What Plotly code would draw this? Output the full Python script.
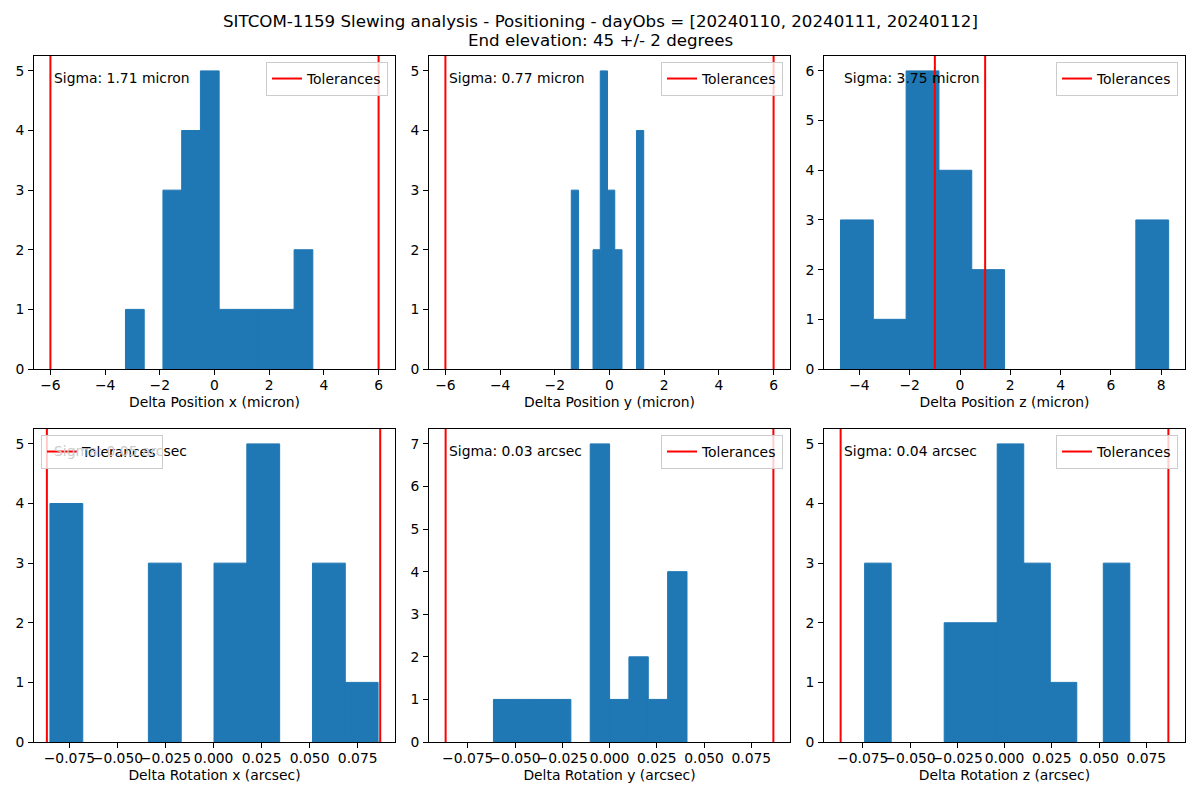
import numpy as np
import plotly.graph_objects as go

# ---------------- data ----------------
title_line1 = "SITCOM-1159 Slewing analysis - Positioning - dayObs = [20240110, 20240111, 20240112]"
title_line2 = "End elevation: 45 +/- 2 degrees"

xlabels = ["Delta Position x (micron)", "Delta Position y (micron)", "Delta Position z (micron)",
           "Delta Rotation x (arcsec)", "Delta Rotation y (arcsec)", "Delta Rotation z (arcsec)"]
sigma_texts = ["Sigma: 1.71 micron", "Sigma: 0.77 micron", "Sigma: 3.75 micron",
               "<span style='color:#cccccc'>Sigma: 0.05 arc</span>sec", "Sigma: 0.03 arcsec", "Sigma: 0.04 arcsec"]

# histogram ranges (first bin left edge, last bin right edge) and counts (10 bins each)
pos_x_range = [-3.255, 3.595]
pos_x_counts = [1, 0, 3, 4, 5, 1, 1, 1, 1, 2]
pos_y_range = [-1.397, 1.251]
pos_y_counts = [3, 0, 0, 2, 5, 3, 2, 0, 0, 4]
pos_z_range = [-4.754, 8.30]
pos_z_counts = [3, 1, 6, 4, 2, 0, 0, 0, 0, 3]
rot_x_range = [-0.0851, 0.0856]
rot_x_counts = [4, 0, 0, 3, 0, 3, 5, 0, 3, 1]
rot_y_range = [-0.0614, 0.0410]
rot_y_counts = [1, 1, 1, 1, 0, 7, 1, 2, 1, 4]
rot_z_range = [-0.0740, 0.0663]
rot_z_counts = [3, 0, 0, 2, 2, 5, 3, 1, 0, 3]

tolerances = [6.0, 6.0, 1.0, 0.0867, 0.0867, 0.0867]

pos_ticks = [-6, -4, -2, 0, 2, 4, 6]
pos_ticklabels = ["\u22126", "\u22124", "\u22122", "0", "2", "4", "6"]
posz_ticks = [-4, -2, 0, 2, 4, 6, 8]
posz_ticklabels = ["\u22124", "\u22122", "0", "2", "4", "6", "8"]
rot_ticks = [-0.075, -0.05, -0.025, 0.0, 0.025, 0.05, 0.075]
rot_ticklabels = ["\u22120.075", "\u22120.050", "\u22120.025", "0.000", "0.025", "0.050", "0.075"]

xranges = [[-6.6, 6.6], [-6.6, 6.6], [-5.41, 8.95], [-0.0934, 0.0944], [-0.0955, 0.0955], [-0.0955, 0.0955]]
ymax_counts = [5, 5, 6, 5, 7, 5]
yticks = [list(range(0, m + 1)) for m in ymax_counts]

# ---------------- layout geometry ----------------
OFF = 8                      # default page body margin
W, H = 1200 - OFF, 800 - OFF  # figure size so that it fits the window exactly
col_px = [(34, 395), (429, 790), (824, 1185)]   # page pixel positions
row_px = [(56, 369), (429, 742)]

def fx(px):
    return (px - OFF) / W

def fy(py):
    return 1 - (py - OFF) / H

ranges = [pos_x_range, pos_y_range, pos_z_range, rot_x_range, rot_y_range, rot_z_range]
counts = [pos_x_counts, pos_y_counts, pos_z_counts, rot_x_counts, rot_y_counts, rot_z_counts]
xtick_sets = [(pos_ticks, pos_ticklabels), (pos_ticks, pos_ticklabels), (posz_ticks, posz_ticklabels),
              (rot_ticks, rot_ticklabels), (rot_ticks, rot_ticklabels), (rot_ticks, rot_ticklabels)]

BLUE = "#1f77b4"
FONT = "DejaVu Sans"
fs = 13.89
fs_title = 16.67

fig = go.Figure()
layout = dict(
    width=W, height=H,
    margin=dict(l=0, r=0, t=0, b=0),
    paper_bgcolor="white", plot_bgcolor="white",
    font=dict(family=FONT, size=fs, color="black"),
    showlegend=True,
    annotations=[],
)

for i in range(6):
    r, c = divmod(i, 3)
    x0, x1 = col_px[c]
    y0, y1 = row_px[r]
    xa = "xaxis" if i == 0 else f"xaxis{i+1}"
    ya = "yaxis" if i == 0 else f"yaxis{i+1}"
    xref = "x" if i == 0 else f"x{i+1}"
    yref = "y" if i == 0 else f"y{i+1}"
    leg = "legend" if i == 0 else f"legend{i+1}"

    edges = np.linspace(ranges[i][0], ranges[i][1], len(counts[i]) + 1)
    centers = (edges[:-1] + edges[1:]) / 2
    widths = np.diff(edges)
    yvals = [v if v > 0 else None for v in counts[i]]
    ytop = ymax_counts[i] * 1.05

    fig.add_trace(go.Bar(x=centers, y=yvals, width=widths,
                         marker=dict(color=BLUE, line=dict(width=1, color=BLUE)),
                         xaxis=xref, yaxis=yref, showlegend=False, hoverinfo="skip"))
    t = tolerances[i]
    fig.add_trace(go.Scatter(x=[-t, -t, None, t, t], y=[0, ytop, None, 0, ytop], mode="lines",
                             line=dict(color="red", width=2), name="Tolerances",
                             xaxis=xref, yaxis=yref, legend=leg, showlegend=True))

    tv, tt = xtick_sets[i]
    layout[xa] = dict(domain=[fx(x0), fx(x1)], range=xranges[i], anchor=yref, automargin=False,
                      showline=True, mirror=True, linecolor="black", linewidth=1,
                      ticks="outside", ticklen=5, tickcolor="black", tickwidth=1,
                      tickvals=tv, ticktext=tt, tickangle=0, showgrid=False, zeroline=False,
                      tickfont=dict(size=fs), ticklabelstandoff=-2,
                      title=dict(text=xlabels[i], font=dict(size=fs), standoff=5))
    layout[ya] = dict(domain=[fy(y1), fy(y0)], range=[0, ytop], anchor=xref, automargin=False,
                      showline=True, mirror=True, linecolor="black", linewidth=1,
                      ticks="outside", ticklen=5, tickcolor="black", tickwidth=1,
                      tickvals=yticks[i], showgrid=False, zeroline=False,
                      tickfont=dict(size=fs), ticklabelstandoff=1)

    layout["annotations"].append(dict(text=sigma_texts[i], xref=f"{xref} domain", yref=f"{yref} domain",
                                      x=0.05, y=(y1 - (y0 + 22)) / (y1 - y0),
                                      xanchor="left", yanchor="middle", showarrow=False,
                                      font=dict(size=fs, color="black")))

    if i == 3:
        lx, lxa = fx(x0 + 7), "left"
    else:
        lx, lxa = fx(x1 - 7), "right"
    layout[leg] = dict(x=lx, xanchor=lxa, y=fy(y0 + 6), yanchor="top",
                       bgcolor="rgba(255,255,255,0.8)", bordercolor="#cccccc", borderwidth=1,
                       font=dict(size=fs), xref="paper", yref="paper")

layout["annotations"].append(dict(text=title_line1, x=fx(600), y=fy(22), xref="paper", yref="paper",
                                  xanchor="center", yanchor="middle", showarrow=False, font=dict(size=fs_title)))
layout["annotations"].append(dict(text=title_line2, x=fx(600), y=fy(40), xref="paper", yref="paper",
                                  xanchor="center", yanchor="middle", showarrow=False, font=dict(size=fs_title)))

fig.update_layout(**layout)
fig.write_html("out.html")
